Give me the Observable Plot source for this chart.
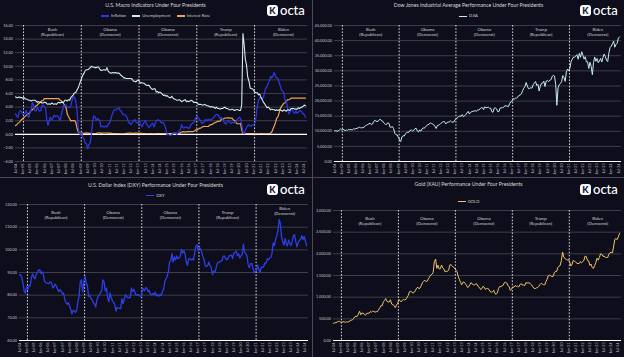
<!DOCTYPE html>
<html><head><meta charset="utf-8">
<script src="https://cdn.jsdelivr.net/npm/d3@7"></script>
<script src="https://cdn.jsdelivr.net/npm/@observablehq/plot@0.6"></script>
<style>
html,body{margin:0;padding:0;background:#0d0d1b;}
#root{position:relative;width:624px;height:357px;background:#0d0d1b;overflow:hidden;font-family:Lato,"Open Sans",sans-serif;}
.panel{position:absolute;background:#0d0d1b;overflow:hidden;}
.panel svg{position:absolute;left:0;top:0;}
.title{position:absolute;left:0;width:100%;text-align:center;color:#d9d9d9;font-size:5.2px;line-height:5.2px;white-space:nowrap;}
.legend{position:absolute;left:0;width:100%;display:flex;justify-content:center;gap:6px;color:#cfcfcf;font-size:4.2px;line-height:4.2px;white-space:nowrap;}
.legend .it{display:flex;align-items:center;}
.legend .sw{display:inline-block;width:8px;height:1.2px;margin-right:2px;}
.logo{position:absolute;display:flex;align-items:center;color:#fff;}
.logo .ic{width:11px;height:11px;border-radius:3px;background:#fff;color:#14143a;font:900 9px Lato,sans-serif;display:flex;align-items:center;justify-content:center;}
.logo .tx{font:500 13px Lato,sans-serif;margin-left:2px;line-height:13px;}
.sep{position:absolute;background:#4a4a56;}
</style></head>
<body><div id="root"></div>
<script>
// ---- data: monthly values starting Jul 2004 ----
const START = new Date(Date.UTC(2004, 6, 1));
const X_DOMAIN = [START, new Date(Date.UTC(2024, 8, 20))];

const inflation = [
3.0,2.7,2.5,3.2,3.5,3.3,
3.0,3.0,3.1,3.5,2.8,2.5,3.2,3.6,4.7,4.3,3.5,3.4,
4.0,3.6,3.4,3.5,4.2,4.3,4.1,3.8,2.1,1.3,2.0,2.5,
2.1,2.4,2.8,2.6,2.7,2.7,2.4,2.0,2.8,3.5,4.3,4.1,
4.3,4.0,4.0,3.9,4.2,5.0,5.6,5.4,4.9,3.7,1.1,0.1,
0.0,0.2,-0.4,-0.7,-1.3,-1.4,-2.1,-1.5,-1.3,-0.2,1.8,2.7,
2.6,2.1,2.3,2.2,2.0,1.1,1.2,1.1,1.1,1.2,1.1,1.5,
1.6,2.1,2.7,3.2,3.6,3.6,3.6,3.8,3.9,3.5,3.4,3.0,
2.9,2.9,2.7,2.3,1.7,1.7,1.4,1.7,2.0,2.2,1.8,1.7,
1.6,2.0,1.5,1.1,1.4,1.8,2.0,1.5,1.2,1.0,1.2,1.5,
1.6,1.1,1.5,2.0,2.1,2.1,2.0,1.7,1.7,1.7,1.3,0.8,
-0.1,0.0,-0.1,-0.2,0.0,0.1,0.2,0.2,0.0,0.2,0.5,0.7,
1.4,1.0,0.9,1.1,1.0,1.0,0.8,1.1,1.5,1.6,1.7,2.1,
2.5,2.7,2.4,2.2,1.9,1.6,1.7,1.9,2.2,2.0,2.2,2.1,
2.1,2.2,2.4,2.5,2.8,2.9,2.9,2.7,2.3,2.5,2.2,1.9,
1.6,1.5,1.9,2.0,1.8,1.6,1.8,1.7,1.7,1.8,2.1,2.3,
2.5,2.3,1.5,0.3,0.1,0.6,1.0,1.3,1.4,1.2,1.2,1.4,
1.4,1.7,2.6,4.2,5.0,5.4,5.4,5.3,5.4,6.2,6.8,7.0,
7.5,7.9,8.5,8.3,8.6,9.1,8.5,8.3,8.2,7.7,7.1,6.5,
6.4,6.0,5.0,4.9,4.0,3.0,3.2,3.7,3.7,3.2,3.1,3.4,
3.1,3.2,3.5,3.4,3.3,3.0,2.9,2.5];

const unemployment = [
5.5,5.4,5.4,5.5,5.4,5.4,
5.3,5.4,5.2,5.2,5.1,5.0,5.0,4.9,5.0,5.0,5.0,4.9,
4.7,4.8,4.7,4.7,4.6,4.6,4.7,4.7,4.5,4.4,4.5,4.4,
4.6,4.5,4.4,4.5,4.4,4.6,4.7,4.6,4.7,4.7,4.7,5.0,
5.0,4.9,5.1,5.0,5.4,5.6,5.8,6.1,6.1,6.5,6.8,7.3,
7.8,8.3,8.7,9.0,9.4,9.5,9.5,9.6,9.8,10.0,9.9,9.9,
9.8,9.8,9.9,9.9,9.6,9.4,9.4,9.5,9.5,9.4,9.8,9.3,
9.1,9.0,9.0,9.1,9.0,9.1,9.0,9.0,9.0,8.8,8.6,8.5,
8.3,8.3,8.2,8.2,8.2,8.2,8.2,8.1,7.8,7.8,7.7,7.9,
8.0,7.7,7.5,7.6,7.5,7.5,7.3,7.2,7.2,7.2,6.9,6.7,
6.6,6.7,6.7,6.2,6.3,6.1,6.2,6.1,5.9,5.7,5.8,5.6,
5.7,5.5,5.4,5.4,5.6,5.3,5.2,5.1,5.0,5.0,5.1,5.0,
4.8,4.9,5.0,5.1,4.8,4.9,4.8,4.9,5.0,4.9,4.7,4.7,
4.7,4.6,4.4,4.4,4.4,4.3,4.3,4.4,4.3,4.2,4.2,4.1,
4.0,4.1,4.0,4.0,3.8,4.0,3.8,3.8,3.7,3.8,3.8,3.9,
4.0,3.8,3.8,3.7,3.6,3.6,3.7,3.6,3.5,3.6,3.6,3.6,
3.5,3.5,4.4,14.8,13.2,11.0,10.2,8.4,7.8,6.8,6.7,6.7,
6.4,6.2,6.1,6.1,5.8,5.9,5.4,5.1,4.7,4.5,4.2,3.9,
4.0,3.8,3.6,3.7,3.6,3.6,3.5,3.6,3.5,3.6,3.6,3.5,
3.4,3.6,3.5,3.4,3.6,3.6,3.5,3.8,3.8,3.8,3.7,3.7,
3.7,3.9,3.8,3.9,4.0,4.1,4.3,4.2];

const interestRate = [
1.26,1.43,1.61,1.76,1.93,2.16,
2.28,2.50,2.63,2.79,3.00,3.04,3.26,3.50,3.62,3.78,4.00,4.16,
4.29,4.49,4.59,4.79,4.94,4.99,5.24,5.25,5.25,5.25,5.25,5.24,
5.25,5.26,5.26,5.25,5.25,5.25,5.26,5.02,4.94,4.76,4.49,4.24,
3.94,2.98,2.61,2.28,1.98,2.00,2.01,2.00,1.81,0.97,0.39,0.16,
0.15,0.22,0.18,0.15,0.18,0.21,0.16,0.16,0.15,0.12,0.12,0.12,
0.11,0.13,0.16,0.20,0.20,0.18,0.18,0.19,0.19,0.19,0.19,0.18,
0.17,0.16,0.14,0.10,0.09,0.09,0.07,0.10,0.08,0.07,0.08,0.07,
0.08,0.10,0.13,0.14,0.16,0.16,0.16,0.13,0.14,0.16,0.16,0.16,
0.14,0.15,0.14,0.15,0.11,0.09,0.09,0.08,0.08,0.09,0.08,0.09,
0.07,0.07,0.08,0.09,0.09,0.10,0.09,0.09,0.09,0.09,0.09,0.12,
0.11,0.11,0.11,0.12,0.12,0.13,0.13,0.14,0.14,0.12,0.12,0.24,
0.34,0.38,0.36,0.37,0.37,0.38,0.39,0.40,0.40,0.40,0.41,0.54,
0.65,0.66,0.79,0.90,0.91,1.04,1.15,1.16,1.15,1.15,1.16,1.30,
1.41,1.42,1.51,1.69,1.70,1.82,1.91,1.91,1.95,2.19,2.20,2.27,
2.40,2.40,2.41,2.42,2.39,2.38,2.40,2.13,2.04,1.83,1.55,1.55,
1.55,1.58,0.65,0.05,0.05,0.08,0.09,0.10,0.09,0.09,0.09,0.09,
0.09,0.08,0.07,0.07,0.06,0.08,0.10,0.09,0.08,0.08,0.08,0.08,
0.08,0.08,0.20,0.33,0.77,1.21,1.68,2.33,2.56,3.08,3.78,4.10,
4.33,4.57,4.65,4.83,5.06,5.08,5.12,5.33,5.33,5.33,5.33,5.33,
5.33,5.33,5.33,5.33,5.33,5.33,5.33,5.33];

const djia = [
10140,10174,10080,10027,10428,10783,
10490,10766,10504,10193,10467,10275,10641,10482,10569,10440,10806,10718,
10865,10993,11109,11367,11168,11150,11186,11381,11679,12081,12222,12463,
12622,12269,12354,13063,13628,13409,13212,13358,13896,13930,13372,13265,
12650,12266,12263,12820,12638,11350,11378,11544,10851,9325,8829,8776,
8001,7063,6600,8168,8500,8447,9172,9496,9712,9713,10345,10428,
10067,10325,10857,11009,10137,9774,10466,10015,10788,11118,11006,11578,
11892,12226,12320,12811,12570,12414,12143,11614,10913,11955,12046,12218,
12633,12952,13212,13214,12393,12880,13009,13091,13437,13096,13026,13104,
13861,14054,14579,14840,15116,14910,15500,14810,15130,15546,16086,16577,
15699,16322,16458,16581,16717,16827,16563,17098,17043,17391,17828,17823,
17165,18133,17776,17841,18011,17620,17690,16528,16285,17664,17720,17425,
16466,16517,17685,17774,17787,17930,18432,18401,18308,18142,19124,19763,
19864,20812,20663,20941,21009,21350,21891,21948,22405,23377,24272,24719,
26149,25029,24103,24163,24416,24271,25415,25965,26458,25116,25538,23327,
24999,25916,25929,26593,24815,26600,26864,26403,26917,27046,28051,28538,
28256,25409,18600,24346,25383,25813,26428,28430,27782,26502,29639,30606,
29983,30932,32982,33875,34529,34503,34935,35361,33844,35820,34484,36338,
35132,33893,34678,32977,32990,30775,32845,31510,28726,32733,34590,33147,
34086,32657,33274,34098,32908,34408,35560,34722,33508,33053,35951,37690,
38150,38996,39807,37816,38686,39119,40843,41250];

const dxy = [
89.0,88.9,87.6,85.0,81.5,80.9,
83.9,82.4,84.3,84.1,87.7,89.4,88.0,87.2,89.3,89.9,91.1,91.2,
89.5,90.3,89.3,86.2,85.5,85.4,85.0,85.3,85.9,85.3,83.2,83.7,
84.9,83.8,82.6,81.5,82.4,81.9,80.5,80.9,78.1,76.7,76.0,76.7,
75.2,73.8,71.8,73.3,73.2,72.4,73.1,77.1,79.7,85.9,86.8,81.4,
86.0,88.4,85.3,84.4,79.4,80.0,78.4,78.0,76.7,76.1,74.8,77.9,
79.5,80.3,81.1,81.8,86.7,86.0,81.9,83.1,78.9,77.1,81.0,79.0,
77.5,76.8,75.9,73.0,74.6,74.3,74.2,74.1,78.5,76.3,78.4,80.2,
79.3,78.8,79.0,78.9,83.2,81.6,82.6,81.2,79.9,80.2,80.1,79.8,
79.2,81.9,82.9,81.9,83.3,83.1,81.5,82.1,80.2,80.2,80.7,80.2,
81.3,79.7,80.1,79.5,80.4,79.8,81.5,82.8,86.0,87.1,88.4,90.3,
94.8,95.3,98.4,94.6,96.9,95.5,97.3,96.1,96.4,97.2,100.2,98.6,
99.6,98.2,94.6,93.1,95.9,96.1,95.5,96.0,95.5,98.5,101.5,102.2,
99.5,101.1,100.4,99.1,97.0,95.6,92.9,92.7,93.1,94.6,93.0,92.1,
89.1,90.6,90.1,91.8,93.9,94.5,94.5,95.1,95.1,97.1,97.3,96.2,
95.6,96.2,97.3,97.5,97.7,96.1,98.5,98.9,99.4,97.4,98.3,96.4,
97.4,98.1,102.5,99.0,98.3,97.4,93.4,92.1,93.9,94.0,91.9,89.9,
90.6,90.9,93.2,91.3,90.0,92.4,92.2,92.6,94.2,94.1,96.0,95.7,
96.5,96.7,98.3,103.0,101.8,104.7,105.9,108.7,113.3,111.5,105.9,103.5,
102.1,104.9,102.5,101.7,104.3,102.9,101.9,103.6,106.2,106.7,103.5,101.3,
103.3,104.2,104.5,106.2,104.6,105.9,104.1,101.7];

const gold = [
398,407,413,425,439,442,
424,424,434,429,422,430,425,437,456,470,476,510,
549,555,557,610,675,596,633,632,598,585,627,629,
631,665,655,679,667,655,665,665,712,754,806,803,
889,922,968,909,888,889,939,839,829,806,760,816,
858,943,924,890,928,946,934,949,996,1043,1127,1135,
1118,1095,1113,1148,1205,1233,1193,1215,1271,1343,1370,1391,
1356,1372,1424,1473,1510,1528,1572,1820,1880,1665,1739,1652,
1656,1743,1674,1650,1585,1596,1594,1630,1745,1747,1721,1688,
1670,1627,1593,1487,1414,1342,1286,1347,1349,1316,1275,1222,
1244,1300,1336,1299,1287,1279,1311,1296,1239,1222,1176,1200,
1251,1227,1179,1198,1199,1181,1128,1117,1125,1159,1086,1068,
1097,1199,1245,1242,1260,1276,1337,1341,1326,1267,1238,1157,
1192,1234,1231,1266,1246,1260,1236,1283,1314,1280,1282,1265,
1331,1330,1325,1335,1303,1282,1238,1202,1198,1215,1221,1250,
1291,1320,1300,1286,1284,1359,1413,1500,1510,1495,1471,1480,
1560,1597,1591,1683,1715,1732,1847,2040,1921,1900,1866,1858,
1867,1808,1718,1760,1850,1834,1807,1785,1775,1777,1821,1790,
1817,1856,1948,1937,1849,1837,1733,1764,1681,1664,1726,1798,
1898,1855,1913,1999,1992,1943,1951,1918,1916,1916,1993,2028,
2035,2023,2159,2334,2352,2327,2392,2470];

const termNames = ["Bush","Obama","Obama","Trump","Biden"];
const termParties = ["(Republican)","(Democrat)","(Democrat)","(Republican)","(Democrat)"];
const termStarts = ["2005-01-20","2009-01-20","2013-01-20","2017-01-20","2021-01-20"];

const macroTicks = d3.range(-4, 17, 2);
const djiaTicks = d3.range(0, 45001, 5000);
const dxyTicks = d3.range(60, 121, 10);
const goldTicks = d3.range(0, 3001, 500);

// ---- helpers ----
const rows = arr => arr.map((v, i) => ({date: d3.utcMonth.offset(START, i), value: v}));
const terms = termNames.map((n, i) => {
  const s = new Date(termStarts[i] + "T00:00:00Z");
  return {name: n, party: termParties[i], start: s, mid: d3.utcYear.offset(s, 2), label: n + "\n" + termParties[i]};
});

const GRID = "#55555f";
const TXT = "#c4c4c4";

function makePlot({w, h, ml, mr, mt, mb, yDomain, yTicks, baseline, labelDy, lastDy, lines, behind = []}) {
  const labelMarks = lastDy == null
    ? [Plot.text(terms, {x: "mid", text: "label", frameAnchor: "top", lineAnchor: "top", dy: labelDy, fill: "#d2d2d2", fontSize: 4.3, lineHeight: 1.35})]
    : [Plot.text(terms.slice(0, 4), {x: "mid", text: "label", frameAnchor: "top", lineAnchor: "top", dy: labelDy, fill: "#d2d2d2", fontSize: 4.3, lineHeight: 1.35}),
       Plot.text(terms.slice(4), {x: "mid", text: "label", frameAnchor: "top", lineAnchor: "top", dy: lastDy, fill: "#d2d2d2", fontSize: 4.3, lineHeight: 1.35})];
  return Plot.plot({
    width: w, height: h, marginLeft: ml, marginRight: mr, marginTop: mt, marginBottom: mb,
    style: {background: "transparent", color: TXT, fontFamily: "Lato, sans-serif", fontSize: "4px", overflow: "visible"},
    x: {type: "utc", domain: X_DOMAIN, label: null},
    y: {domain: yDomain, label: null},
    marks: [
      Plot.ruleY(yTicks, {stroke: GRID, strokeWidth: 0.7}),
      Plot.ruleX(terms, {x: "start", stroke: "#f0f0f0", strokeWidth: 0.9, strokeDasharray: "1.6,1.6"}),
      ...labelMarks,
      ...behind,
      Plot.ruleY([baseline], {stroke: "#ffffff", strokeWidth: 1.2}),
      ...lines,
      Plot.axisY(yTicks, {tickFormat: d3.format(",.2f"), tickSize: 0, tickPadding: 2.5, fontSize: 3.8, label: null}),
      Plot.axisX({ticks: d3.utcMonth.every(6), tickFormat: d3.utcFormat("%b-%y"), tickRotate: -90, tickSize: 0, tickPadding: 2, fontSize: 3.6, label: null})
    ]
  });
}

const root = document.getElementById("root");
function addPanel({left, top, w, h, title, titleY, legendItems, legendY, logoY, plot}) {
  const p = document.createElement("div");
  p.className = "panel";
  p.style.left = left + "px"; p.style.top = top + "px"; p.style.width = w + "px"; p.style.height = h + "px";
  p.appendChild(plot);
  const t = document.createElement("div");
  t.className = "title"; t.style.top = (titleY - 2.6) + "px"; t.textContent = title;
  p.appendChild(t);
  const lg = document.createElement("div");
  lg.className = "legend"; lg.style.top = (legendY - 2.1) + "px";
  legendItems.forEach(([label, color]) => {
    const it = document.createElement("span"); it.className = "it";
    const sw = document.createElement("span"); sw.className = "sw"; sw.style.background = color;
    it.appendChild(sw); it.appendChild(document.createTextNode(label));
    lg.appendChild(it);
  });
  p.appendChild(lg);
  const logo = document.createElement("div");
  logo.className = "logo"; logo.style.left = "267px"; logo.style.top = logoY + "px";
  logo.innerHTML = '<span class="ic">K</span><span class="tx">octa</span>';
  p.appendChild(logo);
  root.appendChild(p);
}

const C_INF = "#2c38dc", C_UNE = "#d3eeee", C_INT = "#eea553", C_DJ = "#c6ecee", C_DXY = "#2d3fe4", C_GOLD = "#f2c466";

addPanel({left: 0, top: 0, w: 311, h: 177, title: "U.S. Macro Indicators Under Four Presidents", titleY: 6,
  legendItems: [["Inflation", C_INF], ["Unemployment", C_UNE], ["Interest Rate", C_INT]], legendY: 16, logoY: 4,
  plot: makePlot({w: 311, h: 177, ml: 15, mr: 4, mt: 25, mb: 16, yDomain: [-4, 16], yTicks: macroTicks, baseline: 0, labelDy: 1,
    behind: [Plot.lineY(rows(interestRate), {x: "date", y: "value", stroke: C_INT, strokeWidth: 1.2})],
    lines: [
      Plot.lineY(rows(inflation), {x: "date", y: "value", stroke: C_INF, strokeWidth: 1.3}),
      Plot.lineY(rows(unemployment), {x: "date", y: "value", stroke: C_UNE, strokeWidth: 1.1})
    ]})});

addPanel({left: 313, top: 0, w: 311, h: 177, title: "Dow Jones Industrial Average Performance Under Four Presidents", titleY: 6,
  legendItems: [["DJIA", C_DJ]], legendY: 16.5, logoY: 4,
  plot: makePlot({w: 311, h: 177, ml: 21, mr: 3, mt: 25, mb: 16, yDomain: [0, 45000], yTicks: djiaTicks, baseline: 0, labelDy: 1,
    lines: [Plot.lineY(rows(djia), {x: "date", y: "value", stroke: C_DJ, strokeWidth: 1})]})});

addPanel({left: 0, top: 178, w: 311, h: 179, title: "U.S. Dollar Index (DXY) Performance Under Four Presidents", titleY: 7.7,
  legendItems: [["DXY", C_DXY]], legendY: 17.7, logoY: 5,
  plot: makePlot({w: 311, h: 179, ml: 19, mr: 3, mt: 26, mb: 17, yDomain: [60, 120], yTicks: dxyTicks, baseline: 60, labelDy: 5, lastDy: 1,
    lines: [Plot.lineY(rows(dxy), {x: "date", y: "value", stroke: C_DXY, strokeWidth: 1.3})]})});

addPanel({left: 313, top: 178, w: 311, h: 179, title: "Gold (XAU) Performance Under Four Presidents", titleY: 7,
  legendItems: [["GOLD", C_GOLD]], legendY: 23.7, logoY: 5,
  plot: makePlot({w: 311, h: 179, ml: 20, mr: 3, mt: 32, mb: 17, yDomain: [0, 3000], yTicks: goldTicks, baseline: 0, labelDy: 5,
    lines: [Plot.lineY(rows(gold), {x: "date", y: "value", stroke: C_GOLD, strokeWidth: 1})]})});

const s1 = document.createElement("div"); s1.className = "sep";
s1.style.cssText += "left:311.5px;top:0;width:1px;height:357px;"; root.appendChild(s1);
const s2 = document.createElement("div"); s2.className = "sep";
s2.style.cssText += "left:0;top:177px;width:624px;height:1px;"; root.appendChild(s2);
</script>
</body></html>
